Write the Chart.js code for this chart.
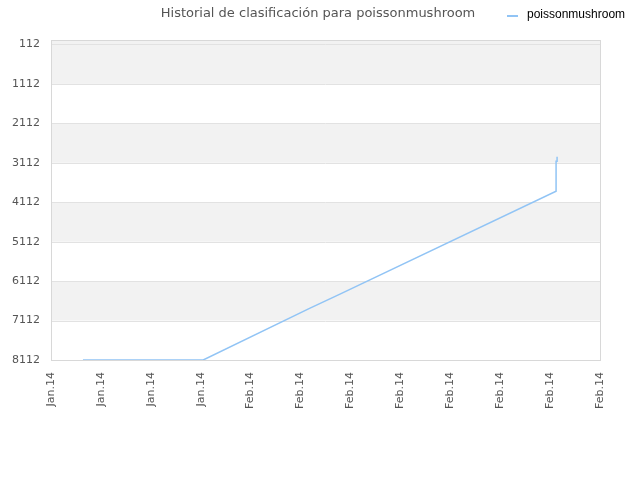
<!DOCTYPE html>
<html>
<head>
<meta charset="utf-8">
<script src="https://cdn.jsdelivr.net/npm/chart.js@4/dist/chart.umd.min.js"></script>
<style>
html,body{margin:0;padding:0;background:#fff;}
#wrap{width:640px;height:480px;position:relative;}
</style>
</head>
<body>
<div id="wrap"><canvas id="c" width="640" height="480"></canvas></div>
<script>
const titleText = 'Historial de clasificación para poissonmushroom';
const seriesName = 'poissonmushroom';
const xTickLabels = ['Jan.14','Jan.14','Jan.14','Jan.14','Feb.14','Feb.14','Feb.14','Feb.14','Feb.14','Feb.14','Feb.14','Feb.14'];
const yTickValues = [112,1112,2112,3112,4112,5112,6112,7112,8112];
const pointX = [0.64, 3.05, 5.18, 5.79, 10.12, 10.12, 10.14, 10.14];
const rankValues = [8112, 8112, 6802, 6443, 3833, 3073, 3073, 2962];

const lineColor = 'rgb(145,196,245)';

const decor = {
  id: 'decor',
  beforeDatasetsDraw(chart) {
    const {ctx, chartArea: a, scales: {y}} = chart;
    ctx.save();
    const bounds = [0].concat(yTickValues.slice(1));
    for (let i = 0; i < bounds.length - 1; i++) {
      if (i % 2 === 0) {
        const y1 = y.getPixelForValue(bounds[i]);
        const y2 = y.getPixelForValue(bounds[i + 1]);
        ctx.fillStyle = '#f2f2f2';
        ctx.fillRect(a.left, y1, a.right - a.left, y2 - y1);
      }
    }
    ctx.strokeStyle = '#e2e2e2';
    ctx.lineWidth = 1;
    yTickValues.forEach(v => {
      const py = Math.round(y.getPixelForValue(v)) + 0.5;
      ctx.beginPath(); ctx.moveTo(a.left, py); ctx.lineTo(a.right, py); ctx.stroke();
    });
    ctx.strokeStyle = '#d8d8d8';
    ctx.strokeRect(Math.round(a.left) + 0.5, Math.round(a.top) + 0.5, Math.round(a.right - a.left), Math.round(a.bottom - a.top));
    ctx.restore();
  },
  afterDraw(chart) {
    const ctx = chart.ctx;
    ctx.save();
    ctx.fillStyle = '#555';
    ctx.font = '13px "DejaVu Sans"';
    ctx.textAlign = 'center';
    ctx.textBaseline = 'middle';
    ctx.fillText(titleText, 318, 14);
    ctx.strokeStyle = lineColor;
    ctx.lineWidth = 2;
    ctx.beginPath(); ctx.moveTo(507, 16); ctx.lineTo(518, 16); ctx.stroke();
    ctx.fillStyle = '#000';
    ctx.font = '12px "Liberation Sans"';
    ctx.textAlign = 'left';
    ctx.fillText(seriesName, 527, 15);
    ctx.restore();
  }
};

new Chart(document.getElementById('c'), {
  type: 'line',
  data: {
    datasets: [{
      label: seriesName,
      data: pointX.map((x, i) => ({x: x, y: rankValues[i]})),
      borderColor: lineColor,
      borderWidth: 1.5,
      pointRadius: 0,
      fill: false,
      tension: 0
    }]
  },
  options: {
    responsive: false,
    animation: false,
    layout: {padding: {top: 40, right: 40, left: 0, bottom: 0}},
    plugins: {legend: {display: false}, title: {display: false}, tooltip: {enabled: false}},
    scales: {
      x: {
        type: 'linear',
        min: 0, max: 11,
        grid: {display: false, drawTicks: false},
        border: {display: false},
        afterBuildTicks(scale) { scale.ticks = xTickLabels.map((_, i) => ({value: i})); },
        afterFit(scale) { scale.height = 120; },
        ticks: {
          autoSkip: false,
          maxRotation: 90, minRotation: 90,
          padding: 12,
          color: '#555',
          font: {family: 'DejaVu Sans', size: 11},
          callback: (v) => xTickLabels[Math.round(v)]
        }
      },
      y: {
        type: 'linear',
        reverse: true,
        min: 0, max: 8112,
        grid: {display: false, drawTicks: false},
        border: {display: false},
        afterBuildTicks(scale) { scale.ticks = yTickValues.map(v => ({value: v})); },
        afterFit(scale) { scale.width = 51; },
        ticks: {
          padding: 11,
          color: '#555',
          font: {family: 'DejaVu Sans', size: 11},
          callback: (v) => String(v)
        }
      }
    }
  },
  plugins: [decor]
});
</script>
</body>
</html>
